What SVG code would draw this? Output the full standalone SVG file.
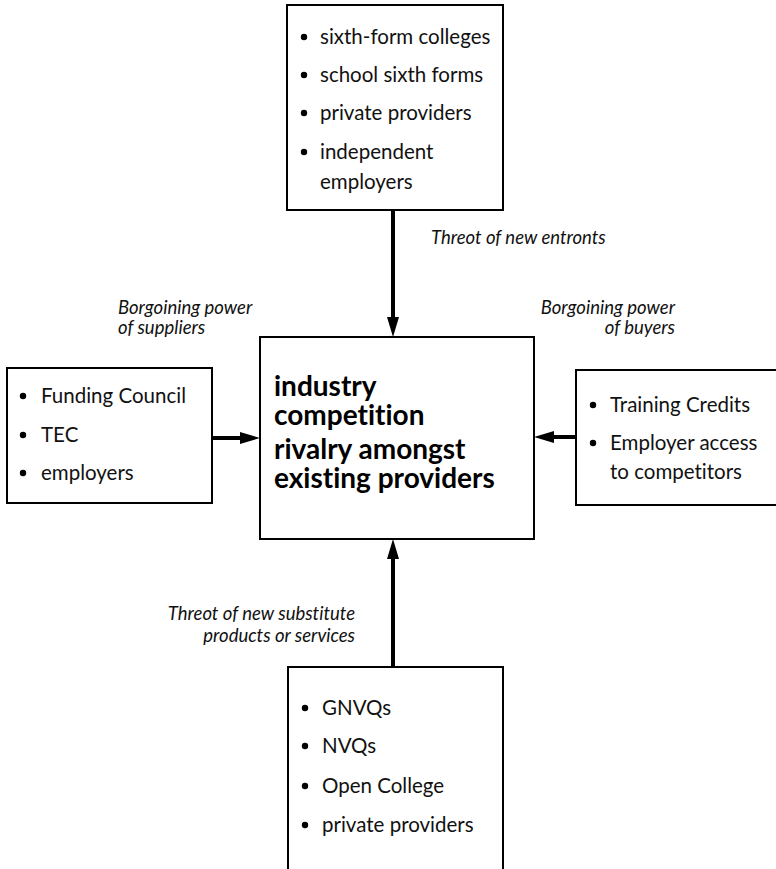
<svg xmlns="http://www.w3.org/2000/svg" width="776" height="869" viewBox="0 0 776 869">
<defs>
<style>
text{font-variant-ligatures:none;font-feature-settings:"liga" 0,"dlig" 0}
.box{fill:#fff;stroke:#000;stroke-width:2}
.item{font-family:Lato,"Open Sans","Liberation Sans",sans-serif;font-size:20.5px;fill:#111}
.lab{font-family:Lato,"Open Sans","Liberation Sans",sans-serif;font-size:18.5px;font-style:italic;fill:#111}
.main{font-family:Lato,"Open Sans","Liberation Sans",sans-serif;font-size:28px;font-weight:bold;fill:#000}
.conn{stroke:#000;stroke-width:4;fill:none;marker-end:url(#ah)}
.dot{fill:#000}
</style>
<marker id="ah" markerUnits="userSpaceOnUse" markerWidth="20" markerHeight="12" refX="12" refY="6" orient="auto">
<path d="M0,0 L20,6 L0,12 z" fill="#000"/>
</marker>
</defs>
<rect width="776" height="869" fill="#fff"/>

<g id="connectors">
<path class="conn" d="M393,210 L393,329"/>
<path class="conn" d="M212,438 L252,438"/>
<path class="conn" d="M576,437 L542,437"/>
<path class="conn" d="M393,667 L393,547"/>
</g>

<g id="new-entrants">
<rect class="box" x="287" y="5" width="216" height="205"/>
<circle class="dot" cx="304" cy="37" r="3.2"/>
<text class="item" x="320" y="44">sixth-form colleges</text>
<circle class="dot" cx="304" cy="75" r="3.2"/>
<text class="item" x="320" y="82">school sixth forms</text>
<circle class="dot" cx="304" cy="113" r="3.2"/>
<text class="item" x="320" y="120">private providers</text>
<circle class="dot" cx="304" cy="152" r="3.2"/>
<text class="item" x="320" y="159">independent<tspan x="320" y="189">employers</tspan></text>
</g>

<g id="center">
<rect class="box" x="260" y="337" width="274" height="202"/>
<text class="main" x="274" y="396">industry<tspan x="274" y="425">competition</tspan></text>
<text class="main" x="274" y="459">rivalry amongst<tspan x="274" y="488">existing providers</tspan></text>
</g>

<g id="suppliers">
<rect class="box" x="7" y="368" width="205" height="135"/>
<circle class="dot" cx="23" cy="396" r="3.2"/>
<text class="item" x="41" y="403">Funding Council</text>
<circle class="dot" cx="23" cy="435" r="3.2"/>
<text class="item" x="41" y="442">TEC</text>
<circle class="dot" cx="23" cy="473" r="3.2"/>
<text class="item" x="41" y="480">employers</text>
</g>

<g id="buyers">
<rect class="box" x="576" y="370" width="210" height="135"/>
<circle class="dot" cx="593" cy="405" r="3.2"/>
<text class="item" x="610" y="412">Training Credits</text>
<circle class="dot" cx="593" cy="443" r="3.2"/>
<text class="item" x="610" y="450">Employer access<tspan x="610" y="479">to competitors</tspan></text>
</g>

<g id="substitutes">
<rect class="box" x="288" y="667" width="215" height="220"/>
<circle class="dot" cx="305" cy="708" r="3.2"/>
<text class="item" x="322" y="715">GNVQs</text>
<circle class="dot" cx="305" cy="746" r="3.2"/>
<text class="item" x="322" y="753">NVQs</text>
<circle class="dot" cx="305" cy="786" r="3.2"/>
<text class="item" x="322" y="793">Open College</text>
<circle class="dot" cx="305" cy="825" r="3.2"/>
<text class="item" x="322" y="832">private providers</text>
</g>

<g id="labels">
<text class="lab" x="431" y="244">Threot of new entronts</text>
<text class="lab" x="118" y="314">Borgoining power<tspan x="118" y="334">of suppliers</tspan></text>
<text class="lab" x="675" y="314" text-anchor="end">Borgoining power<tspan x="675" y="334">of buyers</tspan></text>
<text class="lab" x="355" y="620" text-anchor="end">Threot of new substitute<tspan x="355" y="642">products or services</tspan></text>
</g>
</svg>
